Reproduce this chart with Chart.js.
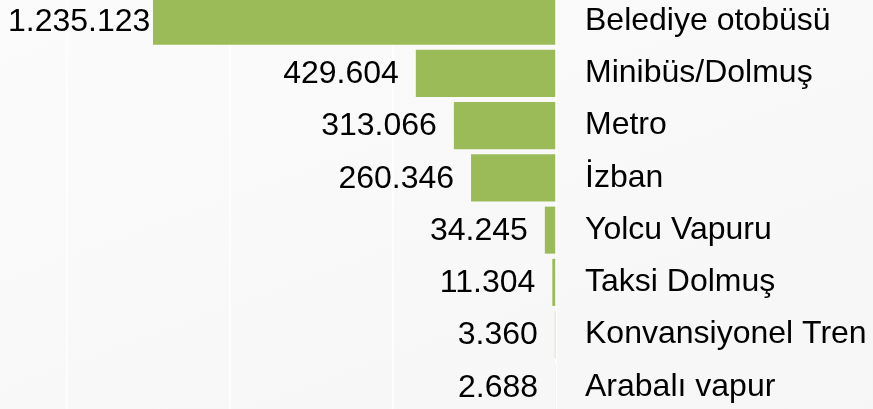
<!DOCTYPE html>
<html>
<head>
<meta charset="utf-8">
<script src="https://cdn.jsdelivr.net/npm/chart.js@4"></script>
<style>
  html, body { margin: 0; padding: 0; overflow: hidden; }
  body { width: 873px; height: 409px; background: linear-gradient(160deg, #fbfbfb, #f6f6f6); }
  #wrap { position: absolute; left: 0; top: -5px; width: 873px; height: 418px; }
</style>
</head>
<body>
<div id="wrap"><canvas id="myChart"></canvas></div>
<script>
const labels = ["Belediye otobüsü", "Minibüs/Dolmuş", "Metro", "İzban", "Yolcu Vapuru", "Taksi Dolmuş", "Konvansiyonel Tren", "Arabalı vapur"];
const datapoints = [1235123, 429604, 313066, 260346, 34245, 11304, 3360, 2688];

const fmt = (v) => v.toString().replace(/\B(?=(\d{3})+(?!\d))/g, ".");
const FONT = "32px 'Liberation Sans', Arial, sans-serif";

// value labels to the left of each bar
const valueLabels = {
  id: "valueLabels",
  afterDatasetsDraw(chart) {
    const ctx = chart.ctx;
    const meta = chart.getDatasetMeta(0);
    ctx.save();
    ctx.font = FONT;
    ctx.fillStyle = "#000";
    ctx.textBaseline = "middle";
    meta.data.forEach((bar, i) => {
      const txt = fmt(datapoints[i]);
      const w = ctx.measureText(txt).width;
      let right = bar.x - 17;
      if (right - w < 8) right = 8 + w;
      ctx.textAlign = "right";
      ctx.fillText(txt, right, bar.y + 1);
    });
    ctx.restore();
  },
};

const data = {
  labels: labels,
  datasets: [
    {
      data: datapoints,
      backgroundColor: "#9bbb59",
      borderWidth: 0,
      barPercentage: 0.9,
      categoryPercentage: 1,
    },
  ],
};

const config = {
  type: "bar",
  data: data,
  options: {
    indexAxis: "y",
    responsive: true,
    maintainAspectRatio: false,
    animation: false,
    layout: { padding: 0 },
    plugins: {
      legend: { display: false },
      tooltip: { enabled: false },
    },
    scales: {
      x: {
        reverse: true,
        min: 0,
        max: 1704000,
        afterBuildTicks: (scale) => {
          scale.ticks = [0, 500000, 1000000, 1500000].map((v) => ({ value: v }));
        },
        afterFit: (scale) => {
          scale.height = 0;
        },
        ticks: { display: false },
        grid: { color: "#ffffff", lineWidth: 1.5, drawTicks: false },
        border: { display: false },
      },
      y: {
        position: "right",
        afterFit: (scale) => {
          scale.width = 873 - 556;
          scale.paddingTop = 0;
          scale.paddingBottom = 0;
        },
        grid: { display: false, drawTicks: false },
        border: { display: true, color: "#ffffff", width: 1.5 },
        ticks: {
          padding: 29,
          color: "#000",
          font: { family: "'Liberation Sans', Arial, sans-serif", size: 32 },
        },
      },
    },
  },
  plugins: [valueLabels],
};

const ctx = document.getElementById("myChart").getContext("2d");
new Chart(ctx, config);
</script>
</body>
</html>
